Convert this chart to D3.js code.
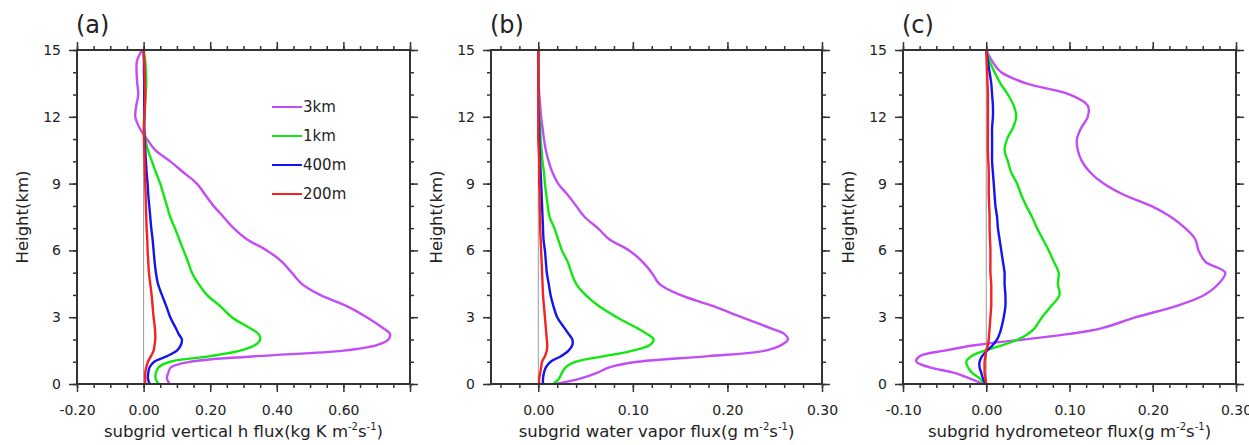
<!DOCTYPE html>
<html>
<head>
<meta charset="utf-8">
<script src="https://cdn.jsdelivr.net/npm/d3@7"></script>
<style>
  body { margin: 0; background: #fff; }
  text { font-family: "DejaVu Sans", sans-serif; fill: #222; }
</style>
</head>
<body>
<svg width="1249" height="445"></svg>
<script>
// heights (km) shared by every profile
var heights = [0, 0.25, 0.5, 0.75, 1, 1.25, 1.5, 1.75, 2, 2.25, 2.5,
  3, 3.5, 4, 4.5, 5, 5.5, 6, 6.5, 7, 7.5, 8, 8.5, 9, 9.5, 10,
  10.5, 11, 11.5, 12, 12.5, 13, 13.5, 14, 14.5, 15];

var seriesNames = ["3km", "1km", "400m", "200m"];

// (a) subgrid vertical h flux
var hflux3km = [0.078, 0.07, 0.074, 0.082, 0.14, 0.34, 0.6, 0.7, 0.735, 0.74, 0.72,
  0.67, 0.61, 0.53, 0.475, 0.445, 0.415, 0.37, 0.31, 0.27, 0.24, 0.21, 0.185, 0.16, 0.12, 0.08,
  0.035, 0.01, -0.012, -0.025, -0.022, -0.016, -0.019, -0.021, -0.02, -0.005];
var hflux1km = [0.045, 0.036, 0.037, 0.045, 0.08, 0.2, 0.29, 0.335, 0.35, 0.345, 0.32,
  0.265, 0.23, 0.19, 0.165, 0.145, 0.133, 0.12, 0.107, 0.094, 0.08, 0.07, 0.06, 0.05, 0.037, 0.025,
  0.013, 0.005, 0.001, 0.002, 0.004, 0.006, 0.008, 0.007, 0.005, 0];
var hflux400m = [0.018, 0.013, 0.014, 0.018, 0.032, 0.07, 0.1, 0.112, 0.115, 0.105, 0.097,
  0.08, 0.068, 0.055, 0.043, 0.037, 0.033, 0.03, 0.027, 0.023, 0.02, 0.017, 0.014, 0.012, 0.009, 0.007,
  0.005, 0.003, 0.002, 0.002, 0.002, 0.002, 0.002, 0.001, 0.001, 0];
var hflux200m = [0.005, 0.005, 0.005, 0.008, 0.013, 0.022, 0.03, 0.033, 0.035, 0.035, 0.034,
  0.03, 0.027, 0.024, 0.02, 0.016, 0.014, 0.012, 0.011, 0.009, 0.008, 0.007, 0.006, 0.005, 0.004, 0.003,
  0.002, 0.001, 0.001, 0.002, 0.004, 0.005, 0.004, 0.003, 0.002, 0];

// (b) subgrid water vapor flux
var qv3km = [0.018, 0.045, 0.062, 0.075, 0.105, 0.18, 0.24, 0.257, 0.264, 0.26, 0.246,
  0.215, 0.185, 0.15, 0.128, 0.12, 0.11, 0.096, 0.075, 0.063, 0.049, 0.04, 0.031, 0.021, 0.015, 0.011,
  0.008, 0.006, 0.0045, 0.003, 0.002, 0.001, 0.0005, 0, 0, 0];
var qv1km = [0.016, 0.022, 0.025, 0.029, 0.04, 0.07, 0.1, 0.118, 0.122, 0.115, 0.105,
  0.083, 0.064, 0.05, 0.04, 0.035, 0.031, 0.025, 0.021, 0.017, 0.012, 0.01, 0.0085, 0.007, 0.006, 0.0045,
  0.0035, 0.0025, 0.002, 0.001, 0.0005, 0, 0, 0, 0, 0];
var qv400m = [0.005, 0.005, 0.006, 0.008, 0.013, 0.024, 0.032, 0.036, 0.036, 0.032, 0.028,
  0.02, 0.016, 0.013, 0.011, 0.009, 0.008, 0.007, 0.0055, 0.005, 0.0045, 0.004, 0.0035, 0.003, 0.0025, 0.002,
  0.0015, 0.001, 0.001, 0.0005, 0, 0, 0, 0, 0, 0];
var qv200m = [0.001, 0.001, 0.002, 0.003, 0.004, 0.007, 0.009, 0.0095, 0.009, 0.0085, 0.008,
  0.007, 0.006, 0.005, 0.0045, 0.004, 0.0035, 0.003, 0.0025, 0.002, 0.002, 0.0015, 0.0015, 0.001, 0.001, 0.001,
  0.0005, 0, 0, 0, 0, 0, 0, 0, 0, 0];

// (c) subgrid hydrometeor flux
var hm3km = [-0.004, -0.02, -0.038, -0.068, -0.084, -0.08, -0.05, -0.012, 0.045, 0.1, 0.138,
  0.18, 0.228, 0.262, 0.279, 0.287, 0.263, 0.255, 0.251, 0.239, 0.222, 0.198, 0.165, 0.141, 0.125, 0.115,
  0.11, 0.109, 0.114, 0.122, 0.122, 0.1, 0.048, 0.018, 0.007, 0];
var hm1km = [-0.002, -0.008, -0.017, -0.022, -0.024, -0.018, -0.002, 0.02, 0.038, 0.05, 0.058,
  0.067, 0.078, 0.088, 0.086, 0.087, 0.081, 0.075, 0.068, 0.061, 0.055, 0.048, 0.042, 0.037, 0.03, 0.026,
  0.022, 0.025, 0.032, 0.036, 0.033, 0.026, 0.017, 0.01, 0.004, 0];
var hm400m = [-0.001, -0.004, -0.006, -0.008, -0.008, -0.005, 0.001, 0.008, 0.013, 0.016, 0.018,
  0.021, 0.023, 0.023, 0.022, 0.022, 0.02, 0.018, 0.016, 0.014, 0.013, 0.011, 0.01, 0.009, 0.008, 0.007,
  0.007, 0.007, 0.007, 0.008, 0.008, 0.007, 0.006, 0.004, 0.002, 0];
var hm200m = [0, -0.001, -0.002, -0.002, -0.002, -0.001, 0, 0.002, 0.003, 0.0035, 0.004,
  0.005, 0.006, 0.006, 0.006, 0.005, 0.005, 0.005, 0.0045, 0.004, 0.004, 0.0035, 0.003, 0.003, 0.003, 0.0025,
  0.002, 0.002, 0.002, 0.002, 0.002, 0.002, 0.0015, 0.001, 0.0005, 0];

// axis ticks and labels
var yTicks = [0, 3, 6, 9, 12, 15];
var xTicksA = [-0.2, 0, 0.2, 0.4, 0.6, 0.8];
var xLabelsA = ["-0.20", "0.00", "0.20", "0.40", "0.60", ""];
var xTicksB = [0, 0.1, 0.2, 0.3];
var xLabelsB = ["0.00", "0.10", "0.20", "0.30"];
var xTicksC = [-0.1, 0, 0.1, 0.2, 0.3];
var xLabelsC = ["-0.10", "0.00", "0.10", "0.20", "0.30"];

var svg = d3.select("svg");
var plotTop = 50, plotBottom = 384;
var colors = ["#c24cf6", "#10e810", "#1414ee", "#f52222"];

var panels = [
  { tag: "(a)", left: 77, right: 410, domain: [-0.2, 0.8], ticks: xTicksA, labels: xLabelsA, minor: 0.05,
    title: ["subgrid vertical h flux(kg K m", "-2", "s", "-1", ")"],
    series: [hflux3km, hflux1km, hflux400m, hflux200m], legend: true },
  { tag: "(b)", left: 491, right: 822, domain: [-0.05, 0.3], ticks: xTicksB, labels: xLabelsB, minor: 0.02,
    title: ["subgrid water vapor flux(g m", "-2", "s", "-1", ")"],
    series: [qv3km, qv1km, qv400m, qv200m] },
  { tag: "(c)", left: 903, right: 1236, domain: [-0.1, 0.3], ticks: xTicksC, labels: xLabelsC, minor: 0.02,
    title: ["subgrid hydrometeor flux(g m", "-2", "s", "-1", ")"],
    series: [hm3km, hm1km, hm400m, hm200m] }
];

var y = d3.scaleLinear().domain([0, 15]).range([plotBottom, plotTop]);

panels.forEach(function (p) {
  var x = d3.scaleLinear().domain(p.domain).range([p.left, p.right]);
  var g = svg.append("g");

  var minors = d3.range(Math.ceil(p.domain[0] / p.minor - 1e-9), Math.floor(p.domain[1] / p.minor + 1e-9) + 1)
    .map(function (k) { return +(k * p.minor).toFixed(4); });

  function ticks(axis, pos, vals, size, fmt) {
    var a = g.append("g").attr("transform", pos)
      .call(axis.tickValues(vals).tickSize(size).tickSizeOuter(0).tickFormat(fmt || ""));
    a.select(".domain").remove();
    a.selectAll(".tick line").attr("stroke", "#333").attr("stroke-width", 1.5);
    a.selectAll(".tick text").attr("font-size", 14).attr("fill", "#222")
      .attr("font-family", "DejaVu Sans, sans-serif");
    return a;
  }

  // x ticks (bottom & top)
  ticks(d3.axisBottom(x), "translate(0," + plotBottom + ")", minors, 4);
  ticks(d3.axisTop(x), "translate(0," + plotTop + ")", minors, 4);
  ticks(d3.axisTop(x), "translate(0," + plotTop + ")", p.ticks, 8);
  ticks(d3.axisBottom(x).tickPadding(13), "translate(0," + plotBottom + ")", p.ticks, 8,
    function (d, i) { return p.labels[i]; });

  // y ticks (left & right)
  var yMinor = d3.range(0, 16);
  ticks(d3.axisLeft(y), "translate(" + p.left + ",0)", yMinor, 4);
  ticks(d3.axisRight(y), "translate(" + p.right + ",0)", yMinor, 4);
  ticks(d3.axisRight(y), "translate(" + p.right + ",0)", yTicks, 8);
  ticks(d3.axisLeft(y).tickPadding(8), "translate(" + p.left + ",0)", yTicks, 8, d3.format("d"));

  // zero line
  g.append("line")
    .attr("x1", x(0)).attr("x2", x(0))
    .attr("y1", y(0)).attr("y2", y(15))
    .attr("stroke", "#999").attr("stroke-width", 1);

  // profiles
  var line = d3.line()
    .x(function (d) { return x(d[0]); })
    .y(function (d) { return y(d[1]); })
    .curve(d3.curveCatmullRom.alpha(0.5));

  p.series.forEach(function (vals, i) {
    g.append("path")
      .datum(vals.map(function (v, j) { return [v, heights[j]]; }))
      .attr("d", line)
      .attr("fill", "none")
      .attr("stroke", colors[i])
      .attr("stroke-width", 2.4)
      .attr("stroke-linejoin", "round");
  });

  // frame
  g.append("rect")
    .attr("x", p.left).attr("y", plotTop)
    .attr("width", p.right - p.left).attr("height", plotBottom - plotTop)
    .attr("fill", "none").attr("stroke", "#333").attr("stroke-width", 2);

  // panel tag
  g.append("text")
    .attr("x", p.left - 1).attr("y", 33)
    .attr("font-size", 24)
    .text(p.tag);

  // y title
  g.append("text")
    .attr("transform", "translate(" + (p.left - 49) + "," + ((plotTop + plotBottom) / 2) + ") rotate(-90)")
    .attr("text-anchor", "middle")
    .attr("font-size", 16.5)
    .text("Height(km)");

  // x title with superscripts
  var t = g.append("text")
    .attr("x", (p.left + p.right) / 2).attr("y", 437)
    .attr("text-anchor", "middle")
    .attr("font-size", 16.5);
  p.title.forEach(function (s, k) {
    var sup = k % 2 === 1;
    var ts = t.append("tspan").text(s);
    if (sup) ts.attr("font-size", 10).attr("dy", -7);
    else if (k > 0) ts.attr("dy", 7);
  });

  // legend
  if (p.legend) {
    seriesNames.forEach(function (name, i) {
      var ly = 107 + i * 29;
      g.append("line")
        .attr("x1", 272).attr("x2", 302)
        .attr("y1", ly).attr("y2", ly)
        .attr("stroke", colors[i]).attr("stroke-width", 2);
      g.append("text")
        .attr("x", 303).attr("y", ly)
        .attr("dy", "0.36em")
        .attr("font-size", 15)
        .text(name);
    });
  }
});
</script>
</body>
</html>
